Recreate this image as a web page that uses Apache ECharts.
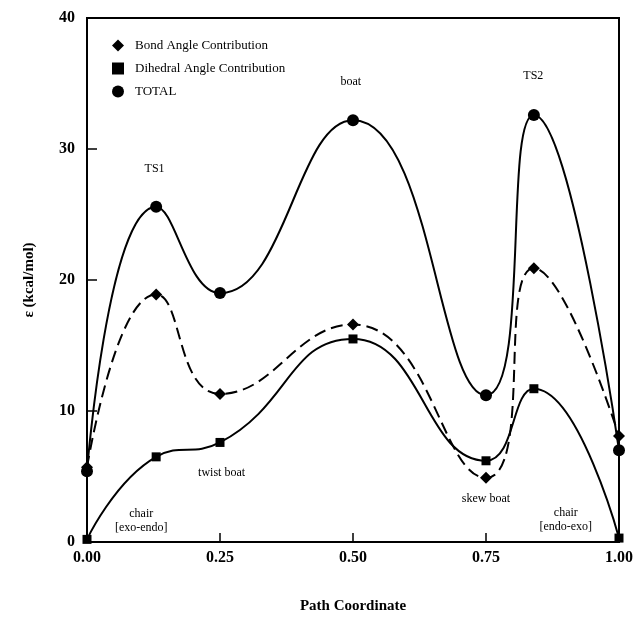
<!DOCTYPE html>
<html>
<head>
<meta charset="utf-8">
<script src="https://cdn.jsdelivr.net/npm/echarts@6/dist/echarts.min.js"></script>
<style>
  html, body { margin: 0; padding: 0; background: #fff; }
  #chart { width: 636px; height: 619px; }
</style>
</head>
<body>
<div id="chart"></div>
<script>
// path coordinate of each stationary point
var pathX = [0, 0.13, 0.25, 0.5, 0.75, 0.84, 1.0];
var bondAngle = [5.7, 18.9, 11.3, 16.6, 4.9, 20.9, 8.1];
var dihedralAngle = [0.2, 6.5, 7.6, 15.5, 6.2, 11.7, 0.3];
var total = [5.4, 25.6, 19.0, 32.2, 11.2, 32.6, 7.0];
var xTicks = [0, 0.25, 0.5, 0.75, 1.0];
var yTicks = [0, 10, 20, 30, 40];

// conformer annotations [x, y, text]
var notes = [
  [0.127, 28.5, "TS1"],
  [0.496, 35.1, "boat"],
  [0.839, 35.6, "TS2"],
  [0.253, 5.3, "twist boat"],
  [0.102, 1.6, "chair\n[exo-endo]"],
  [0.75, 3.3, "skew boat"],
  [0.90, 1.7, "chair\n[endo-exo]"]
];

function pairs(ys) {
  return pathX.map(function (x, i) { return [x, ys[i]]; });
}

var serif = "Liberation Serif";
var chart = echarts.init(document.getElementById("chart"));

var option = {
  animation: false,
  backgroundColor: "#fff",
  grid: {
    left: 87, right: 15, top: 18, bottom: 75,
    show: true, borderColor: "#000", borderWidth: 2
  },
  legend: {
    orient: "vertical",
    left: 107,
    top: 34,
    itemWidth: 12,
    itemHeight: 12,
    itemGap: 10,
    textStyle: { fontFamily: serif, fontSize: 13, color: "#000", padding: [0, 0, 0, 6] },
    data: [
      { name: "Bond Angle Contribution", icon: "diamond" },
      { name: "Dihedral Angle Contribution", icon: "rect" },
      { name: "TOTAL", icon: "circle" }
    ]
  },
  xAxis: {
    type: "value",
    min: 0, max: 1, interval: 0.25,
    name: "Path Coordinate",
    nameLocation: "middle",
    nameGap: 57,
    nameTextStyle: { fontFamily: serif, fontSize: 15, fontWeight: "bold", color: "#000" },
    axisLine: { lineStyle: { color: "#000", width: 2 } },
    axisTick: { inside: true, length: 9, lineStyle: { color: "#000", width: 1.5 } },
    axisLabel: {
      fontFamily: serif, fontSize: 16, fontWeight: "bold", color: "#000", margin: 8,
      formatter: function (v) { return v.toFixed(2); }
    },
    splitLine: { show: false }
  },
  yAxis: {
    type: "value",
    min: 0, max: 40, interval: 10,
    name: "\u03b5 (kcal/mol)",
    nameLocation: "middle",
    nameGap: 50,
    nameTextStyle: { fontFamily: serif, fontSize: 15, fontWeight: "bold", color: "#000" },
    axisLine: { lineStyle: { color: "#000", width: 2 } },
    axisTick: { inside: true, length: 10, lineStyle: { color: "#000", width: 1.5 } },
    axisLabel: { fontFamily: serif, fontSize: 16, fontWeight: "bold", color: "#000", margin: 12 },
    splitLine: { show: false }
  },
  series: [
    {
      name: "Bond Angle Contribution",
      type: "line",
      smooth: 0.5,
      data: pairs(bondAngle),
      symbol: "diamond",
      symbolSize: 12,
      itemStyle: { color: "#000" },
      lineStyle: { color: "#000", width: 2, type: [12, 6] },
      z: 3
    },
    {
      name: "Dihedral Angle Contribution",
      type: "line",
      smooth: 0.5,
      data: pairs(dihedralAngle),
      symbol: "rect",
      symbolSize: 9,
      itemStyle: { color: "#000" },
      lineStyle: { color: "#000", width: 2 },
      z: 3
    },
    {
      name: "TOTAL",
      type: "line",
      smooth: 0.5,
      data: pairs(total),
      symbol: "circle",
      symbolSize: 12,
      itemStyle: { color: "#000" },
      lineStyle: { color: "#000", width: 2 },
      z: 4,
      markPoint: {
        symbol: "circle",
        symbolSize: 0,
        silent: true,
        label: {
          show: true,
          position: "inside",
          fontFamily: serif,
          fontSize: 12,
          lineHeight: 14,
          color: "#000",
          align: "center",
          formatter: function (p) { return p.name; }
        },
        data: notes.map(function (n) { return { name: n[2], coord: [n[0], n[1]] }; })
      }
    }
  ]
};

chart.setOption(option);
</script>
</body>
</html>
